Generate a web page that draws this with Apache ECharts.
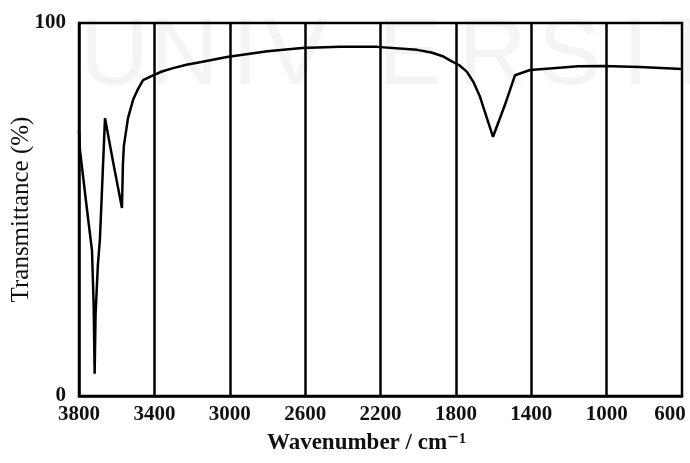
<!DOCTYPE html>
<html>
<head>
<meta charset="utf-8">
<script src="https://cdn.jsdelivr.net/npm/echarts@6/dist/echarts.min.js"></script>
<style>
html,body{margin:0;padding:0;background:#fff;}
#chart{width:690px;height:463px;}
</style>
</head>
<body>
<div id="chart"></div>
<script>
// Wavenumber (cm^-1) and transmittance (%)
var wavenumber = [3800, 3795, 3760, 3731, 3722, 3717, 3712, 3700, 3689, 3662, 3620, 3572, 3567, 3562, 3540, 3513, 3490, 3460, 3413, 3360, 3301, 3230, 3158, 3015, 2800, 2617, 2415, 2219, 2006, 1930, 1870, 1831, 1780, 1741, 1705, 1672, 1603, 1540, 1486, 1407, 1285, 1150, 1019, 823, 600];
var transmittance = [71, 66, 51, 39, 24, 6, 22, 35, 42, 74.5, 63, 50.4, 62, 67, 74.5, 79.4, 82, 84.7, 85.8, 87, 87.9, 88.8, 89.5, 90.9, 92.4, 93.3, 93.6, 93.6, 92.8, 92.1, 91.1, 90, 88.6, 86.9, 84, 80.2, 69.5, 78, 86, 87.4, 87.9, 88.4, 88.5, 88.2, 87.7];
var gridWavenumbers = [3400, 3000, 2600, 2200, 1800, 1400, 1000];
var xTickLabels = [3800, 3400, 3000, 2600, 2200, 1800, 1400, 1000, 600];
var yTickLabels = [0, 100];
var watermarkLetters = ['U', 'N', 'I', 'V', 'E', 'R', 'S', 'I', 'T'];

var seriesData = wavenumber.map(function (w, i) { return [w, transmittance[i]]; });

var wmLeft = [80, 150, 232, 264, 378, 458, 538, 622, 660];
var graphics = watermarkLetters.map(function (ch, i) {
  return {
    type: 'text', left: wmLeft[i], top: 10, z: -10, silent: true,
    style: {text: ch, fill: '#f4f4f4', font: 'normal 95px "Liberation Sans", Arial, sans-serif'}
  };
});

var chart = echarts.init(document.getElementById('chart'), null, {renderer: 'canvas'});
var serif = '"Liberation Serif", "DejaVu Serif", serif';
var tickFont = {fontFamily: serif, fontSize: 21, fontWeight: 'bold', color: '#111'};
chart.setOption({
  backgroundColor: '#ffffff',
  animation: false,
  graphic: graphics,
  grid: {
    left: 79, right: 8, top: 23, bottom: 67,
    containLabel: false,
    outerBoundsMode: 'none',
    show: true,
    borderColor: '#000',
    borderWidth: 2.5,
    backgroundColor: 'transparent'
  },
  xAxis: {
    type: 'value',
    inverse: true,
    min: 600,
    max: 3800,
    interval: 200,
    name: 'Wavenumber / cm\u207B\u00B9',
    nameLocation: 'middle',
    nameGap: 36,
    nameMoveOverlap: false,
    nameTextStyle: {
      fontFamily: serif, fontSize: 23, fontWeight: 'bold', color: '#111',
      padding: [0, 28, 0, 0]
    },
    axisLine: {show: true, lineStyle: {color: '#000', width: 2.5}},
    axisTick: {show: false},
    splitLine: {show: false},
    axisLabel: Object.assign({
      margin: 8,
      formatter: function (v) {
        if (xTickLabels.indexOf(v) < 0) return '';
        return v === xTickLabels[xTickLabels.length - 1] ? '{end|' + v + '}' : String(v);
      },
      rich: {end: Object.assign({padding: [0, 24, 0, 0]}, tickFont)}
    }, tickFont)
  },
  yAxis: {
    type: 'value',
    min: 0,
    max: 100,
    interval: 100,
    name: 'Transmittance (%)',
    nameLocation: 'middle',
    nameRotate: 90,
    nameGap: 45,
    nameMoveOverlap: false,
    nameTextStyle: {fontFamily: serif, fontSize: 25, color: '#111'},
    axisLine: {show: true, lineStyle: {color: '#000', width: 2.5}},
    axisTick: {show: false},
    splitLine: {show: false},
    axisLabel: Object.assign({
      margin: 13,
      formatter: function (v) { return yTickLabels.indexOf(v) >= 0 ? String(v) : ''; }
    }, tickFont)
  },
  series: [{
    type: 'line',
    data: seriesData,
    showSymbol: false,
    symbol: 'none',
    smooth: false,
    lineStyle: {color: '#000', width: 2.5},
    markLine: {
      silent: true,
      symbol: ['none', 'none'],
      label: {show: false},
      lineStyle: {color: '#000', width: 2.5, type: 'solid'},
      data: gridWavenumbers.map(function (w) { return {xAxis: w}; })
    }
  }]
});
</script>
</body>
</html>
